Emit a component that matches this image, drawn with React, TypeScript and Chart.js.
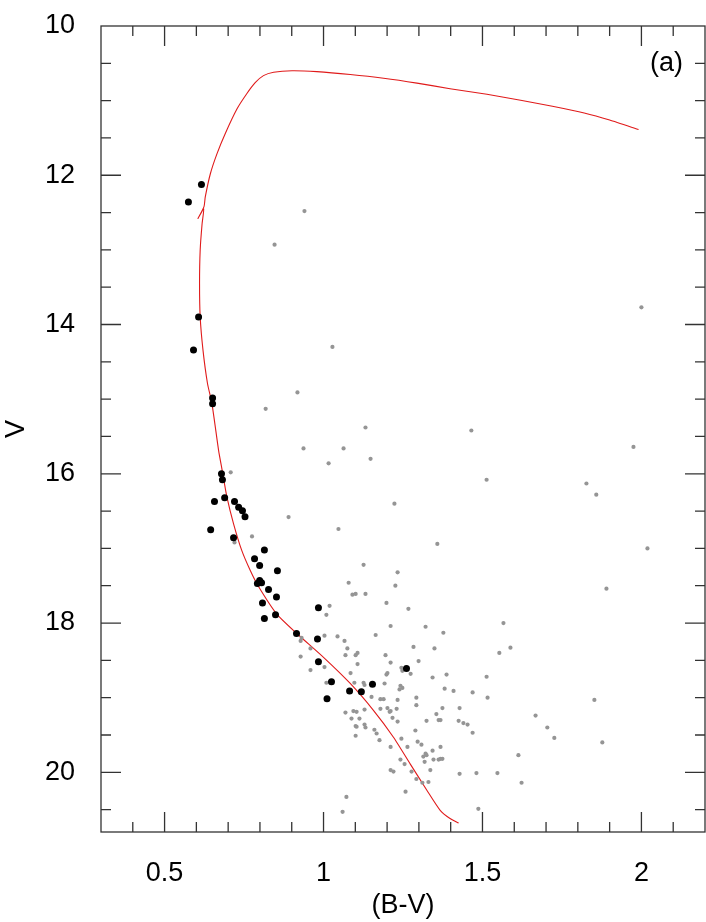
import React, { useEffect, useRef } from 'react';
import { Chart, registerables } from 'chart.js';

Chart.register(...registerables);

// ---- axis ticks ----
const xTickValues = [0.5, 1, 1.5, 2];
const xMinorTicks = [0.4, 0.5, 0.6, 0.7, 0.8, 0.9, 1.0, 1.1, 1.2, 1.3, 1.4, 1.5, 1.6, 1.7, 1.8, 1.9, 2.0, 2.1];
const yTickValues = [10, 12, 14, 16, 18, 20];
const yMinorTicks = [10.5, 11, 11.5, 12, 12.5, 13, 13.5, 14, 14.5, 15, 15.5, 16, 16.5, 17, 17.5, 18, 18.5, 19, 19.5, 20, 20.5];

// ---- member stars (black) ----
const memberBV = [0.616, 0.575, 0.607, 0.591, 0.651, 0.651, 0.679, 0.682, 0.657, 0.689, 0.720, 0.733, 0.745, 0.753, 0.645, 0.717, 0.814, 0.783, 0.799, 0.855, 0.799, 0.805, 0.792, 0.827, 0.852, 0.808, 0.984, 0.849, 0.814, 0.915, 0.981, 0.984, 1.025, 1.261, 1.154, 1.082, 1.119, 1.011];
const memberV = [12.125, 12.358, 13.90, 14.34, 14.985, 15.06, 16.00, 16.08, 16.37, 16.32, 16.37, 16.45, 16.495, 16.575, 16.75, 16.857, 17.02, 17.14, 17.23, 17.30, 17.43, 17.46, 17.47, 17.55, 17.65, 17.73, 17.795, 17.89, 17.94, 18.14, 18.215, 18.52, 18.787, 18.61, 18.82, 18.91, 18.92, 19.015];

// ---- field stars (grey) ----
const fieldBV = [
  0.940, 0.846, 2.000, 1.028, 0.918, 0.818, 1.132, 1.465, 0.937, 1.063, 1.975, 1.016, 1.148, 1.513, 1.827, 1.858, 1.223, 0.890, 1.047, 1.358, 2.019, 0.775, 1.126, 1.233,
  0.708, 0.720, 1.079, 1.226, 1.091, 1.101, 1.132, 1.198, 1.267, 1.019, 1.009, 1.211, 1.321, 1.164, 1.003, 0.931, 1.044, 1.066, 1.283, 1.075, 0.928,
  1.377, 1.349, 0.959, 0.928, 1.101, 1.107, 1.195, 1.299, 1.003, 0.959, 1.211, 1.085, 1.245, 1.248, 1.274, 1.198, 1.201, 1.343, 1.387, 1.513, 1.553,
  1.009, 1.097, 1.126, 1.129, 1.192, 1.242, 1.248, 1.239, 1.381, 1.409, 1.469, 1.516, 1.151, 1.179, 1.189, 1.233, 1.292, 1.292, 1.428, 1.374,
  1.069, 1.094, 1.104, 1.179, 1.201, 1.208, 1.211, 1.230, 1.129, 1.355, 1.362, 1.368, 1.088, 1.113, 1.217, 1.233, 1.324, 1.425, 1.440, 1.453,
  1.469, 1.101, 1.104, 1.129, 1.132, 1.160, 1.167, 1.176, 1.101, 1.211, 1.245, 1.264, 1.289, 1.296, 1.308, 1.314, 1.321, 1.324, 1.343, 1.346,
  1.362, 1.368, 1.374, 1.368, 1.318, 1.242, 1.255, 1.211, 1.220, 1.277, 1.292, 1.336, 1.330, 1.311, 1.428, 1.481, 1.547, 1.258, 1.487, 1.072,
  1.060, 1.069, 1.107,
  1.890, 1.566, 1.588, 1.852, 1.667, 1.704, 1.726, 1.877, 1.613, 1.623,
];
const fieldV = [
  12.48, 12.93, 13.77, 14.30, 14.91, 15.13, 15.38, 15.42, 15.66, 15.66, 15.64, 15.86, 15.80, 16.08, 16.13, 16.28, 16.40, 16.58, 16.74, 16.94, 17.00, 16.84, 17.22, 17.32,
  15.98, 16.92, 17.46, 17.50, 17.62, 17.61, 17.61, 17.73, 17.81, 17.77, 17.89, 18.04, 18.05, 18.16, 18.17, 18.20, 18.18, 18.24, 18.32, 18.34, 18.24,
  18.13, 18.34, 18.34, 18.45, 18.43, 18.40, 18.43, 18.51, 18.59, 18.63, 18.53, 18.67, 18.60, 18.64, 18.68, 18.69, 18.67, 18.73, 18.69, 18.72, 18.40,
  18.80, 18.80, 18.80, 18.83, 18.81, 18.84, 18.87, 18.89, 18.88, 18.91, 18.93, 19.00, 18.99, 19.02, 19.02, 19.03, 19.00, 19.10, 19.14, 19.14,
  19.20, 19.18, 19.19, 19.15, 19.14, 19.19, 19.18, 19.15, 19.16, 19.22, 19.30, 19.30, 19.28, 19.28, 19.27, 19.32, 19.31, 19.31, 19.34, 19.36,
  19.47, 19.38, 19.39, 19.36, 19.40, 19.43, 19.48, 19.57, 19.51, 19.66, 19.55, 19.66, 19.44, 19.59, 19.63, 19.79, 19.75, 19.77, 19.71, 19.83,
  19.83, 19.82, 19.82, 19.66, 19.86, 19.83, 19.89, 19.97, 19.99, 19.99, 20.09, 19.97, 20.13, 20.14, 20.02, 20.01, 20.01, 20.26, 20.49, 20.33,
  20.53, 18.43, 18.55,
  17.54, 18.00, 18.33, 19.03, 19.24, 19.40, 19.54, 19.60, 19.77, 20.14,
];

// ---- isochrone (red) ----
const isoBV = [1.425, 1.398, 1.367, 1.325, 1.273, 1.220, 1.157, 1.084, 1.000, 0.916, 0.853, 0.794, 0.770, 0.743, 0.717, 0.696, 0.681, 0.670, 0.649, 0.635, 0.621, 0.612, 0.610, 0.612, 0.618, 0.623, 0.605, 0.624, 0.628, 0.644, 0.665, 0.691, 0.728, 0.759, 0.785, 0.811, 0.843, 0.901, 0.979, 1.084, 1.189, 1.294, 1.398, 1.514, 1.620, 1.720, 1.820, 1.900, 1.991];
const isoV = [20.68, 20.62, 20.51, 20.24, 19.89, 19.53, 19.17, 18.81, 18.46, 18.14, 17.88, 17.50, 17.30, 17.03, 16.67, 16.31, 15.95, 15.69, 15.06, 14.79, 14.35, 13.90, 13.45, 13.00, 12.65, 12.45, 12.58, 12.42, 12.29, 11.98, 11.71, 11.44, 11.11, 10.905, 10.76, 10.665, 10.62, 10.60, 10.612, 10.65, 10.70, 10.765, 10.84, 10.915, 10.995, 11.075, 11.165, 11.26, 11.388];

const FONT_FAMILY = '"Liberation Sans", Arial, Helvetica, sans-serif';

const framePlugin = {
  id: 'frameTicks',
  afterDatasetsDraw(chart: any) {
    const { ctx, chartArea: a, scales } = chart;
    const x = scales.x;
    const y = scales.y;
    ctx.save();
    ctx.strokeStyle = '#333';
    ctx.lineWidth = 1.3;
    ctx.beginPath();
    for (const v of xMinorTicks) {
      const px = x.getPixelForValue(v);
      const len = xTickValues.some((t) => Math.abs(t - v) < 1e-6) ? 20 : 10;
      ctx.moveTo(px, a.bottom);
      ctx.lineTo(px, a.bottom - len);
      ctx.moveTo(px, a.top);
      ctx.lineTo(px, a.top + len);
    }
    for (const v of yMinorTicks) {
      const py = y.getPixelForValue(v);
      const len = yTickValues.some((t) => Math.abs(t - v) < 1e-6) ? 20 : 10;
      ctx.moveTo(a.left, py);
      ctx.lineTo(a.left + len, py);
      ctx.moveTo(a.right, py);
      ctx.lineTo(a.right - len, py);
    }
    ctx.stroke();
    ctx.strokeRect(a.left, a.top, a.right - a.left, a.bottom - a.top);
    ctx.fillStyle = '#000';
    ctx.font = '27px ' + FONT_FAMILY;
    ctx.textAlign = 'right';
    ctx.textBaseline = 'middle';
    ctx.fillText('(a)', a.right - 22, y.getPixelForValue(10.5));
    ctx.restore();
  },
};

export default function App() {
  const canvasRef = useRef<HTMLCanvasElement | null>(null);

  useEffect(() => {
    const canvas = canvasRef.current;
    if (!canvas) return;
    const members = memberBV.map((bv, i) => ({ x: bv, y: memberV[i] }));
    const field = fieldBV.map((bv, i) => ({ x: bv, y: fieldV[i] }));
    const iso = isoBV.map((bv, i) => ({ x: bv, y: isoV[i] }));

    const chart = new Chart(canvas, {
      type: 'scatter',
      data: {
        datasets: [
          {
            label: 'members',
            data: members,
            backgroundColor: '#000',
            borderColor: '#000',
            pointRadius: 3.5,
            borderWidth: 0,
          },
          {
            label: 'field',
            data: field,
            backgroundColor: '#959595',
            borderColor: '#959595',
            pointRadius: 2.1,
            borderWidth: 0,
          },
          {
            type: 'line',
            label: 'isochrone',
            data: iso,
            borderColor: '#e01a1a',
            borderWidth: 1.1,
            pointRadius: 0,
            fill: false,
            tension: 0.2,
          } as any,
        ],
      },
      options: {
        animation: false,
        responsive: false,
        maintainAspectRatio: false,
        layout: { autoPadding: false, padding: { left: 0, right: 1, top: 26, bottom: 0 } },
        plugins: { legend: { display: false }, tooltip: { enabled: false } },
        scales: {
          x: {
            type: 'linear',
            position: 'bottom',
            min: 0.3,
            max: 2.2,
            grid: { display: false, drawTicks: false },
            border: { display: false },
            afterBuildTicks: (scale: any) => {
              scale.ticks = xTickValues.map((v) => ({ value: v }));
            },
            afterFit: (scale: any) => {
              scale.height = 90;
              scale.paddingLeft = 0;
              scale.paddingRight = 0;
            },
            ticks: {
              padding: 25,
              color: '#000',
              font: { family: FONT_FAMILY, size: 27 },
              maxRotation: 0,
              callback: (v: any) => String(v),
            },
            title: {
              display: true,
              text: '(B-V)',
              color: '#000',
              font: { family: FONT_FAMILY, size: 27 },
              padding: { top: 0, bottom: 0 },
            },
          },
          y: {
            type: 'linear',
            position: 'left',
            min: 10,
            max: 20.8,
            reverse: true,
            grid: { display: false, drawTicks: false },
            border: { display: false },
            afterBuildTicks: (scale: any) => {
              scale.ticks = yTickValues.map((v) => ({ value: v }));
            },
            afterFit: (scale: any) => {
              scale.width = 101;
              scale.paddingTop = 0;
              scale.paddingBottom = 0;
            },
            ticks: {
              padding: 26,
              color: '#000',
              font: { family: FONT_FAMILY, size: 27 },
              callback: (v: any) => String(v),
            },
            title: {
              display: true,
              text: 'V',
              color: '#000',
              font: { family: FONT_FAMILY, size: 27 },
              padding: { top: 0, bottom: 0 },
            },
          },
        },
      },
      plugins: [framePlugin],
    });

    return () => {
      chart.destroy();
    };
  }, []);

  return (
    <div style={{ position: 'absolute', left: 0, top: 0, width: 706, height: 922 }}>
      <canvas ref={canvasRef} width={706} height={922} style={{ width: 706, height: 922, display: 'block' }} />
    </div>
  );
}
